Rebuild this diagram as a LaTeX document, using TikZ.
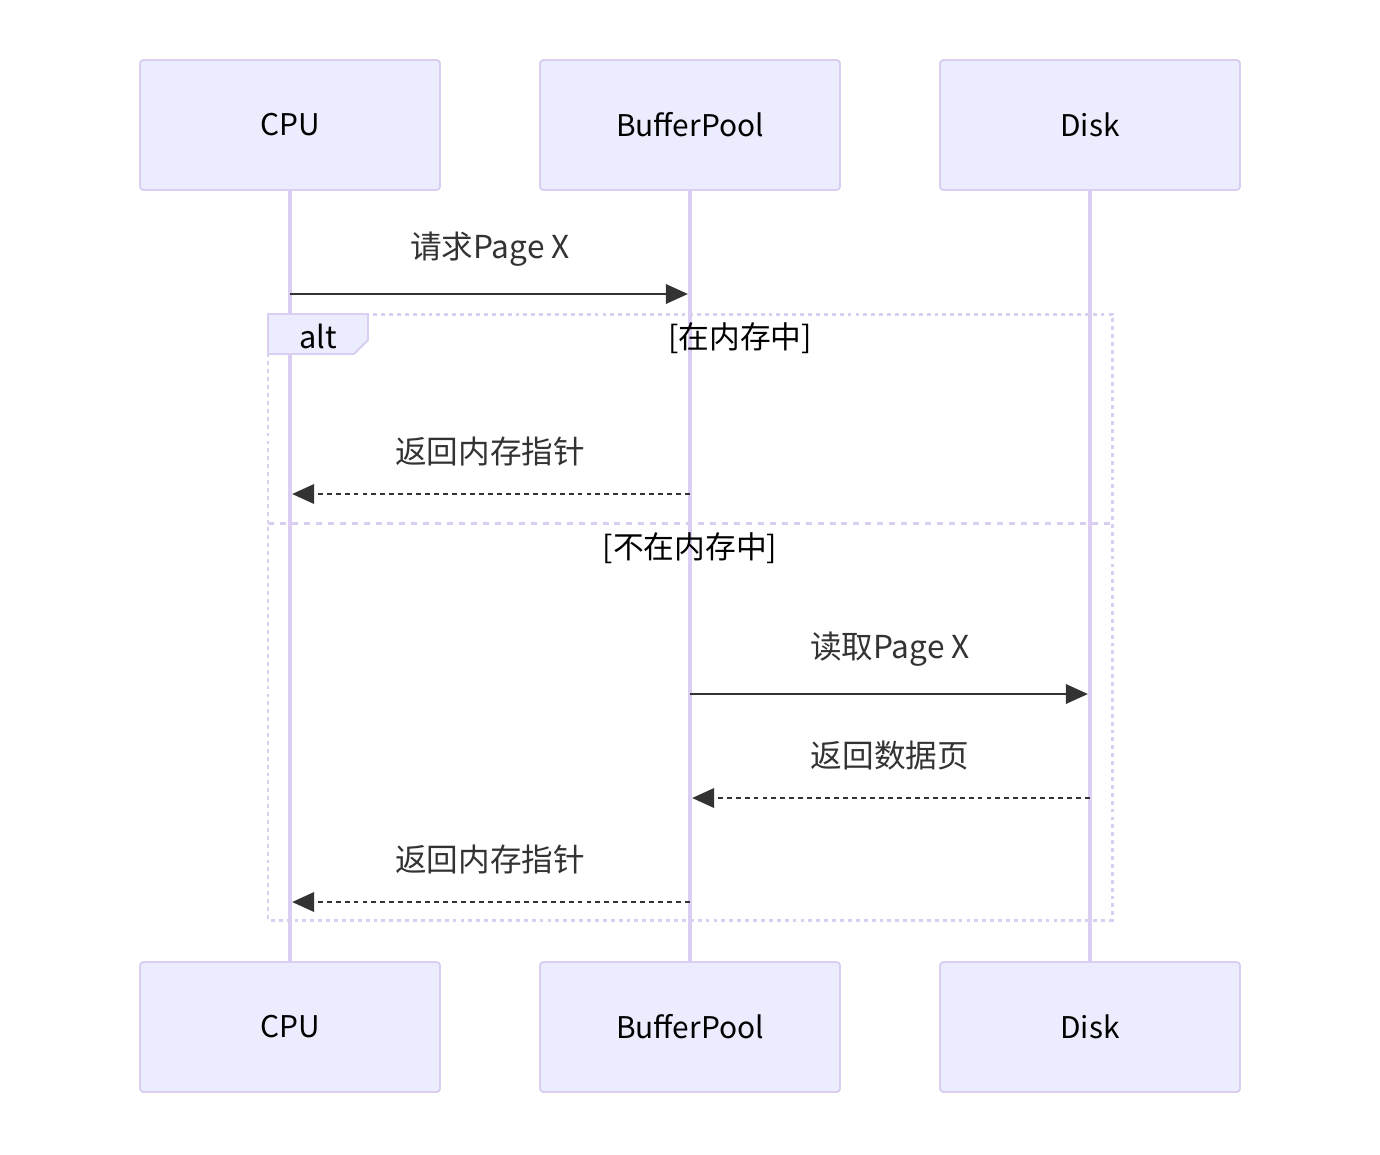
\documentclass[tikz,border=0pt]{standalone}
\usepackage{fontspec}
\setmainfont{Noto Sans CJK SC}
\usepackage{tikz}
\usetikzlibrary{arrows.meta, positioning, calc}
\definecolor{actorfill}{HTML}{ECECFF}
\definecolor{actorline}{HTML}{DACEF3}
\definecolor{msgline}{HTML}{333333}

\begin{document}
\begin{tikzpicture}[
  x=0.02cm,y=-0.02cm,
  actor/.style={
    rectangle, rounded corners=2pt, line width=1.1pt,
    draw=actorline, fill=actorfill,
    minimum width=6cm, minimum height=2.6cm,
    font=\fontsize{17}{20}\selectfont, text=black
  },
  lifeline/.style={line width=2.2pt, draw=actorline},
  msg/.style={line width=1.4pt, draw=msgline, shorten >=1.2pt,
    -{Triangle[length=12.5pt,width=11pt]}},
  reply/.style={msg, dash pattern=on 2.8pt off 2.3pt},
  msglabel/.style={font=\fontsize{18}{21}\selectfont, text=msgline},
  framebox/.style={line width=1.7pt, draw=actorline, dash pattern=on 2.2pt off 2.3pt},
  divider/.style={line width=1.7pt, draw=actorline, dash pattern=on 3.4pt off 3.4pt},
  guard/.style={font=\fontsize{17.5}{21}\selectfont, text=black}
]
\useasboundingbox (0,0) rectangle (1380,1154);

% ---- Participants, top and bottom ----
\node[actor] (cpu)  at (290,125) {CPU};
\node[actor] (pool) at (690,125) {BufferPool};
\node[actor] (disk) at (1090,125) {Disk};
\node[actor] (cpuB)  at (290,1027) {CPU};
\node[actor] (poolB) at (690,1027) {BufferPool};
\node[actor] (diskB) at (1090,1027) {Disk};

% ---- Lifelines ----
\foreach \a/\b in {cpu/cpuB, pool/poolB, disk/diskB}{
  \draw[lifeline] (\a.south) -- (\b.north);
}

% ---- Message rows ----
\coordinate (m1) at (0,294);
\coordinate (m2) at (0,494);
\coordinate (m3) at (0,694);
\coordinate (m4) at (0,798);
\coordinate (m5) at (0,902);

% ---- alt frame ----
\coordinate (frameNW) at (268,314);
\coordinate (frameSE) at (1112,920);
\coordinate (split)   at (0,523);
\draw[framebox] (frameNW) rectangle (frameSE);
\draw[divider] (frameNW |- split) -- (frameSE |- split);
\draw[line width=1.1pt, draw=actorline, fill=actorfill]
  (frameNW) -- ++(100,0) -- ++(0,26) -- ++(-14,14) -- ++(-86,0) -- cycle;
\node[guard] (altTag) at (318,336) {alt};
\node[guard] (guard1) at (740,338) {[在内存中]};
\node[guard] (guard2) at (690,548) {[不在内存中]};

% ---- Messages ----
\draw[msg]   (cpu |- m1)  -- (pool |- m1)
  node[msglabel, midway, above=0.42cm] {请求Page X};
\draw[reply] (pool |- m2) -- (cpu |- m2)
  node[msglabel, midway, above=0.42cm] {返回内存指针};
\draw[msg]   (pool |- m3) -- (disk |- m3)
  node[msglabel, midway, above=0.42cm] {读取Page X};
\draw[reply] (disk |- m4) -- (pool |- m4)
  node[msglabel, midway, above=0.42cm] {返回数据页};
\draw[reply] (pool |- m5) -- (cpu |- m5)
  node[msglabel, midway, above=0.42cm] {返回内存指针};

\end{tikzpicture}
\end{document}
